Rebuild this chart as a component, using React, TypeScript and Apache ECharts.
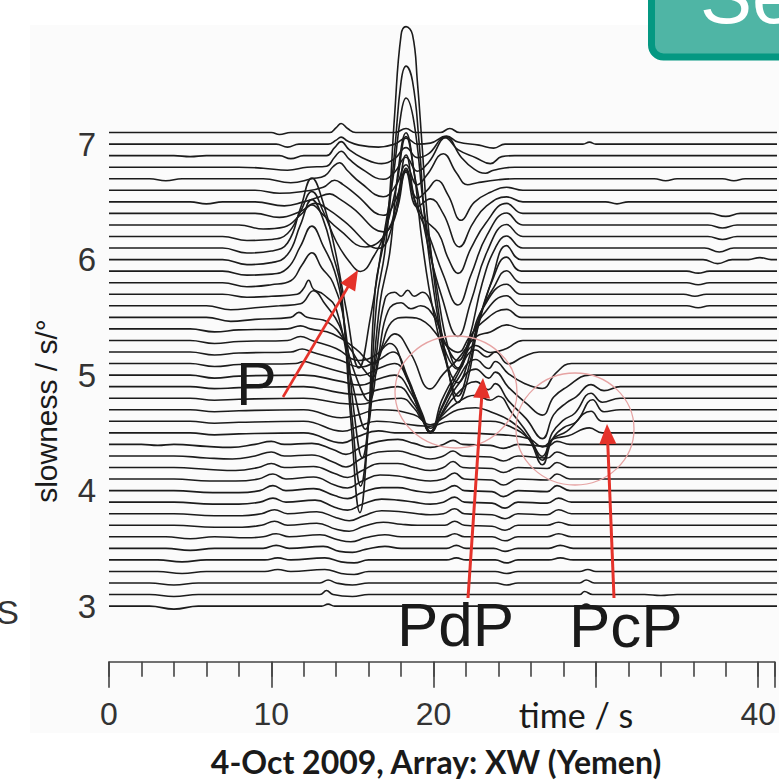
import React, { useEffect, useRef } from "react";
import * as echarts from "echarts";

// slowness of each beam trace (s/°), top to bottom
const SLOWNESS: number[] = [
  7.1, 7.0, 6.9, 6.8, 6.7, 6.6, 6.5, 6.4, 6.3, 6.2, 6.1, 6.0, 5.9, 5.8, 5.7, 5.6, 5.5, 5.4, 5.3, 5.2, 5.1,
  5.0, 4.9, 4.8, 4.7, 4.6, 4.5, 4.4, 4.3, 4.2, 4.1, 4.0, 3.9, 3.8, 3.7, 3.6, 3.5, 3.4, 3.3, 3.2, 3.1, 3.0,
];

// wiggle of each trace: [time s, amplitude] (amplitude in plot px)
const w7_1 = [[10.0,0],[10.5,-2],[11.2,0],[13.6,0],[14.0,5],[14.3,9],[14.7,4],[15.2,0],[17.6,0],[18.3,4],[18.9,0],[20.4,0],[21.0,4],[21.6,0]];
const w7_0 = [[10.3,0],[11.0,-3],[11.7,0],[13.5,0],[14.0,4],[14.3,7],[14.7,3],[15.4,-1],[16.6,-3],[17.6,0],[18.3,6],[19.0,0],[19.8,1],[20.8,8],[21.5,2],[22.8,-1],[23.7,-4],[24.4,0],[29.2,0],[29.6,2],[30.0,0]];
const w6_9 = [[4,0],[5,-1],[6,0],[10.5,0],[11.2,-3],[12.0,0],[13.4,0],[13.9,8],[14.3,14],[14.8,6],[15.6,-2],[16.8,-8],[17.6,-3],[18.3,8],[19.0,-2],[19.7,2],[20.7,18],[21.5,6],[22.6,-2],[23.5,-8],[24.2,-1],[25.0,0]];
const w6_8 = [[8.0,0],[9.5,-1],[11.0,-3],[12.2,0],[13.4,1],[13.9,10],[14.3,16],[14.8,8],[15.6,-2],[16.9,-12],[17.6,-5],[18.3,10],[19.0,-4],[19.7,5],[20.8,30],[21.7,10],[22.5,-2],[23.2,-6],[23.7,-3],[25.0,0]];
const w6_7 = [[2.5,0],[3.5,-2],[4.5,0],[9.5,0],[11.2,-4],[12.5,0],[13.3,3],[13.8,12],[14.2,16],[14.7,8],[15.5,-4],[16.9,-18],[17.7,-6],[18.3,14],[19.0,-6],[19.6,4],[20.6,25],[21.4,6],[22.1,-6],[22.7,-4],[24.0,-1],[25.0,0],[33.6,0],[34.3,-2],[35.0,0],[37.8,0],[38.5,-2],[39.2,0]];
const w6_6 = [[9.0,0],[10.5,-3],[12.0,-1],[13.2,3],[13.9,10],[14.4,6],[15.2,-4],[16.9,-25],[17.7,-8],[18.3,20],[19.0,-8],[19.6,0],[20.2,10],[20.9,-5],[21.7,-30],[22.5,-12],[23.5,-2],[24.5,3],[25.5,0]];
const w6_5 = [[5,0],[6,-2],[7,0],[9.0,0],[10.8,-4],[12.0,0],[12.8,4],[13.6,8],[14.2,3],[15.0,-6],[16.9,-30],[17.7,-10],[18.3,30],[19.0,-5],[19.8,3],[20.6,-12],[21.6,-45],[22.4,-22],[23.2,-5],[24.5,5],[25.5,0],[30.6,0],[31.3,-2],[32.0,0]];
const w6_4 = [[9.0,0],[10.5,-4],[11.8,2],[12.7,10],[13.5,4],[14.5,-8],[16.6,-35],[17.6,-5],[17.9,20],[18.3,45],[18.8,15],[19.4,-5],[20.3,-20],[20.9,-45],[21.5,-60],[22.3,-35],[23.2,-10],[24.5,10],[25.5,0],[37.0,0],[38.0,-3],[38.9,0]];
const w6_3 = [[8.0,0],[9.5,-4],[10.8,-2],[11.8,10],[12.5,20],[13.2,10],[14.2,-5],[15.8,-22],[17.0,-10],[17.7,20],[18.3,70],[18.9,20],[19.7,-10],[20.6,-50],[21.5,-80],[22.3,-50],[23.3,-10],[24.5,12],[25.5,0],[36.9,0],[37.8,-3],[38.7,0]];
const w6_2 = [[7.0,0],[8.5,-4],[10.0,-3],[11.0,3],[11.8,25],[12.5,45],[13.2,25],[14.0,-5],[14.8,-25],[15.5,-35],[16.3,-20],[17.0,5],[17.7,50],[18.3,100],[18.9,55],[19.6,-5],[20.5,-60],[21.5,-100],[22.3,-65],[23.3,-15],[24.5,12],[25.5,0],[36.9,0],[37.8,-3],[38.7,0]];
const w6_1 = [[7.0,0],[8.5,-5],[10.0,-3],[11.0,5],[11.8,40],[12.5,70],[13.2,45],[13.9,0],[14.6,-60],[15.4,-120],[16.1,-70],[16.8,0],[17.5,70],[18.0,135],[18.3,150],[18.8,125],[19.4,40],[20.2,-40],[20.9,-100],[21.5,-120],[22.2,-90],[23.0,-35],[23.8,0],[24.5,12],[25.5,0],[36.7,0],[37.6,-4],[38.5,0]];
const w6_0 = [[7.0,0],[8.5,-5],[10.0,-3],[11.0,5],[11.8,35],[12.5,60],[13.2,40],[13.8,5],[14.3,-30],[14.9,-160],[15.46,-253],[15.96,-170],[16.4,-30],[16.9,15],[17.2,45],[17.6,145],[18.0,225],[18.3,233],[18.7,225],[19.0,178],[19.3,112],[19.6,45],[20.2,-40],[20.9,-110],[21.5,-143],[22.1,-120],[22.7,-70],[23.6,-20],[24.5,14],[25.4,0],[36.6,0],[37.5,-4],[38.4,0],[39.4,0],[40.1,2],[40.8,0]];
const w5_9 = [[7.0,0],[8.5,-4],[10.0,-3],[11.0,3],[11.8,25],[12.5,45],[13.2,25],[13.9,0],[14.4,-40],[15.0,-150],[15.5,-215],[16.0,-150],[16.5,-30],[17.0,20],[17.6,120],[18.0,190],[18.3,205],[18.7,190],[19.1,130],[19.5,45],[20.2,-40],[20.9,-100],[21.5,-125],[22.1,-100],[22.8,-50],[23.6,-10],[24.5,14],[25.4,0],[35.6,0],[36.3,-2],[37.0,0]];
const w5_8 = [[7.0,0],[8.5,-4],[10.0,-2],[11.2,2],[11.9,18],[12.5,30],[13.1,15],[13.8,0],[14.5,-40],[15.1,-130],[15.6,-175],[16.1,-120],[16.7,-20],[17.3,30],[17.8,110],[18.3,150],[18.8,110],[19.3,40],[20.0,-30],[20.9,-85],[21.5,-100],[22.1,-80],[22.9,-30],[23.7,-5],[24.5,12],[25.4,0],[35.6,0],[36.3,-2],[37.0,0]];
const w5_7 = [[7.0,0],[8.5,-3],[10.0,-2],[11.6,0],[12.0,6],[12.3,14],[12.6,5],[13.2,0],[14.0,-15],[15.0,-90],[15.8,-135],[16.4,-70],[17.0,-5],[17.6,2],[18.0,-2],[18.4,4],[18.8,-2],[19.3,2],[20.0,-15],[20.8,-60],[21.5,-75],[22.2,-50],[23.0,-15],[24.5,10],[25.4,0],[35.4,0],[36.1,-2],[36.8,0]];
const w5_6 = [[6.0,0],[7.5,-4],[9.0,-2],[10.5,0],[11.8,2],[12.6,15],[13.3,2],[14.2,-20],[15.2,-70],[16.0,-95],[16.6,-50],[17.2,-5],[18.0,3],[18.6,-3],[19.2,0],[20.0,-10],[20.8,-40],[21.5,-55],[22.2,-35],[23.0,-10],[24.5,10],[25.4,0],[35.6,0],[36.3,-2],[37.0,0]];
const w5_5 = [[6.0,0],[7.5,-4],[9.0,-2],[11.2,0],[11.7,5],[12.2,0],[13.5,-5],[14.8,-30],[15.6,-50],[16.2,-60],[16.8,-30],[17.4,-5],[18.3,0],[19.5,-5],[20.6,-25],[21.5,-35],[22.2,-20],[23.0,-5],[24.5,8],[25.4,0]];
const w5_4 = [[5.0,0],[6.5,-3],[8.0,-1],[11.0,0],[11.8,3],[12.4,0],[13.8,-5],[15.2,-20],[16.3,-35],[17.0,-15],[17.6,-5],[18.6,-25],[19.8,-60],[20.6,-45],[21.5,-30],[22.6,-8],[23.5,-3],[24.5,4],[25.5,0]];
const w5_3 = [[5.0,0],[6.5,-3],[8.0,-1],[11.0,0],[11.8,4],[12.5,0],[14.0,-8],[15.4,-20],[16.4,-15],[17.3,-3],[18.3,-35],[19.1,-70],[19.8,-92],[20.5,-60],[21.5,-30],[22.6,-5],[23.5,-12],[24.5,-8],[25.5,0]];
const w5_2 = [[5.0,0],[6.5,-3],[8.0,-1],[11.2,0],[11.9,3],[12.5,0],[14.2,-8],[15.5,-15],[16.6,-8],[17.5,0],[18.4,-25],[19.2,-60],[19.8,-80],[20.5,-55],[21.4,-25],[22.6,2],[23.3,-5],[23.8,0],[24.6,-12],[25.5,-5],[26.5,0]];
const w5_1 = [[5.0,0],[6.5,-3],[8.0,-1],[11.5,0],[12.0,2],[12.5,0],[14.2,-8],[15.5,-12],[16.6,-5],[17.6,0],[18.5,-20],[19.3,-50],[19.8,-68],[20.5,-45],[21.4,-18],[22.6,4],[23.4,-5],[23.8,2],[24.6,-10],[25.6,-20],[26.7,-25],[27.5,-10],[28.5,0]];
const w5_0 = [[5.0,0],[6.5,-3],[8.0,-1],[12.0,0],[14.2,-6],[15.5,-10],[16.6,-4],[17.6,0],[18.6,-18],[19.3,-42],[19.8,-58],[20.5,-38],[21.4,-12],[22.6,6],[23.4,-3],[23.8,3],[24.6,-12],[25.7,-28],[26.7,-40],[27.4,-22],[28.2,-12],[29.6,0],[30.5,0]];
const w4_9 = [[5.0,0],[6.5,-2],[8.0,-1],[12.0,0],[14.2,-6],[15.5,-8],[16.6,-3],[17.8,0],[18.7,-15],[19.3,-32],[19.8,-45],[20.5,-28],[21.4,-8],[22.6,5],[23.4,-3],[23.8,3],[24.6,-14],[25.7,-32],[26.7,-52],[27.4,-28],[28.2,-16],[28.8,-10],[29.7,2],[30.5,-4],[31.5,0]];
const w4_8 = [[5.0,0],[6.5,-2],[8.0,-1],[12.0,0],[14.2,-5],[15.5,-6],[16.6,-2],[18.0,0],[18.8,-10],[19.3,-22],[19.8,-30],[20.5,-18],[21.4,-5],[22.6,3],[23.5,-2],[24.0,2],[24.8,-14],[25.9,-38],[26.7,-62],[27.3,-35],[28.0,-22],[28.7,-15],[29.7,5],[30.4,-4],[31.5,0]];
const w4_7 = [[5.0,0],[6.5,-2],[8.0,-1],[12.0,0],[14.3,-8],[15.4,-5],[16.5,0],[18.8,-5],[19.8,-15],[20.6,-8],[21.5,0],[22.6,2],[23.5,-2],[24.8,-12],[25.9,-30],[26.7,-55],[27.3,-30],[28.0,-18],[28.8,-12],[29.8,10],[30.5,-2],[31.5,0]];
const w4_6 = [[5.0,0],[6.5,-2],[8.0,-1],[12.0,0],[14.4,-10],[15.4,-5],[16.5,0],[19.8,-5],[21.0,0],[23.5,0],[24.8,-6],[25.9,-18],[26.7,-35],[27.3,-18],[28.2,-10],[29.7,10],[30.4,0]];
const w4_5 = [[5.0,0],[6.5,-2],[8.0,-1],[12.0,0],[14.4,-10],[15.3,-4],[16.6,2],[17.6,0],[21.0,0],[24.3,-2],[25.9,-6],[26.7,-14],[27.4,-6],[28.3,-3],[29.6,5],[30.4,0]];
const w4_4 = [[2.0,0],[3.0,-1],[4.0,0],[6.0,-2],[7.5,-3],[9.0,0],[10.0,3],[10.8,0],[12.5,1],[13.8,-5],[14.6,-10],[15.5,-3],[16.6,3],[17.8,5],[18.8,1],[19.8,-3],[20.6,0],[21.2,4],[21.8,0],[23.5,-1],[24.3,-4],[25.2,0],[27.0,-2],[27.6,3],[28.4,0]];
const w4_3 = [[4.0,0],[6.0,-2],[7.6,-3],[9.0,0],[10.0,4],[10.8,0],[12.5,1],[13.8,-6],[14.6,-11],[15.5,-3],[16.6,4],[17.8,5],[18.8,1],[19.8,-3],[20.6,0],[21.2,5],[21.8,0],[23.5,-1],[24.3,-5],[25.2,0],[27.0,-2],[27.6,4],[28.4,0]];
const w4_2 = [[4.0,0],[6.2,-2],[7.8,-3],[9.2,0],[10.0,4],[10.8,0],[12.6,1],[13.9,-6],[14.7,-10],[15.6,-3],[16.7,4],[17.8,4],[18.8,0],[19.8,-3],[20.6,0],[21.2,6],[21.8,0],[23.6,-1],[24.3,-5],[25.2,0],[27.0,-1],[27.6,5],[28.4,0]];
const w4_1 = [[4.0,0],[6.2,-2],[7.8,-2],[9.2,0],[10.1,5],[10.9,0],[12.6,2],[13.9,-6],[14.7,-9],[15.6,-2],[16.7,4],[17.8,3],[18.8,0],[19.8,-2],[20.6,0],[21.3,6],[21.9,0],[23.6,-1],[24.3,-6],[25.2,0],[27.0,-1],[27.6,5],[28.4,0]];
const w4_0 = [[4.0,0],[6.4,-2],[8.0,-2],[9.3,0],[10.1,5],[10.9,0],[12.6,2],[13.9,-5],[14.7,-8],[15.6,-2],[16.8,3],[17.8,3],[18.8,0],[19.8,-2],[20.6,0],[21.3,5],[21.9,0],[23.6,-1],[24.3,-6],[25.2,0],[27.0,-1],[27.6,5],[28.4,0]];
const w3_9 = [[4.0,0],[6.4,-2],[8.0,-2],[9.3,0],[10.1,4],[10.9,0],[12.7,2],[13.9,-5],[14.7,-8],[15.6,-2],[16.8,3],[17.8,2],[18.8,0],[19.8,-2],[20.6,0],[21.3,5],[21.9,0],[23.6,-1],[24.4,-6],[25.2,0],[27.0,-1],[27.7,4],[28.5,0]];
const w3_8 = [[4.0,0],[6.5,-2],[8.2,-2],[9.4,0],[10.2,4],[11.0,0],[12.8,2],[14.0,-4],[14.8,-7],[15.7,-2],[16.8,3],[18.0,2],[19.0,0],[19.8,-1],[20.6,0],[21.3,5],[21.9,0],[23.6,-1],[24.4,-5],[25.2,0],[27.0,-1],[27.7,4],[28.5,0]];
const w3_7 = [[4.0,0],[6.5,-2],[8.2,-2],[9.4,0],[10.2,4],[11.0,0],[12.8,2],[14.0,-4],[14.8,-6],[15.7,-1],[16.9,3],[18.0,1],[19.0,0],[20.7,0],[21.3,4],[21.9,0],[23.6,-1],[24.4,-5],[25.2,0],[27.0,0],[27.7,3],[28.5,0]];
const w3_6 = [[3.5,0],[5.0,-2],[6.5,0],[8.5,-1],[9.5,0],[10.3,3],[11.1,0],[13.0,2],[14.1,-3],[14.9,-5],[15.8,-1],[17.0,2],[18.0,0],[20.7,0],[21.3,3],[21.9,0],[23.6,0],[24.4,-4],[25.2,0],[27.0,0],[27.7,3],[28.5,0]];
const w3_5 = [[3.5,0],[5.0,-2],[6.5,0],[9.5,0],[10.3,3],[11.1,0],[13.2,2],[14.2,-3],[15.0,-4],[15.8,-1],[17.0,2],[18.0,0],[20.8,0],[21.4,3],[22.0,0],[23.7,0],[24.4,-3],[25.2,0],[27.1,0],[27.8,3],[28.6,0]];
const w3_4 = [[3.0,0],[4.5,-2],[6.0,0],[9.6,0],[10.4,2],[11.2,0],[13.3,2],[14.3,-2],[15.1,-3],[16.0,0],[20.8,0],[21.4,2],[22.0,0],[23.8,0],[24.5,-3],[25.2,0],[27.1,0],[27.8,2],[28.6,0]];
const w3_3 = [[3.0,0],[4.5,-2],[6.0,0],[9.6,0],[10.4,2],[11.2,0],[13.3,2],[14.3,-2],[15.1,-3],[16.0,0],[23.8,0],[24.5,-2],[25.2,0],[29.0,0],[29.5,2],[30.0,0]];
const w3_2 = [[2.5,0],[4.0,-2],[5.5,0],[13.0,0],[13.5,3],[14.0,0],[15.0,-2],[16.0,0],[23.8,0],[24.5,-2],[25.2,0],[29.0,0],[29.4,3],[29.9,0]];
const w3_1 = [[2.5,0],[4.0,-2],[5.5,0],[13.0,0],[13.4,4],[13.8,0],[15.0,-2],[16.0,0],[29.0,0],[29.3,3],[29.8,0],[33.0,0],[34.0,-1],[35.0,0]];
const w3_0 = [[2.5,0],[4.0,-3],[5.5,0],[13.1,0],[13.5,2],[13.9,0],[29.0,0],[29.4,2],[29.8,0]];

const WIGGLES: number[][][] = [
  w7_1, w7_0, w6_9, w6_8, w6_7, w6_6, w6_5, w6_4, w6_3, w6_2, w6_1, w6_0, w5_9, w5_8, w5_7, w5_6, w5_5,
  w5_4, w5_3, w5_2, w5_1, w5_0, w4_9, w4_8, w4_7, w4_6, w4_5, w4_4, w4_3, w4_2, w4_1, w4_0, w3_9, w3_8,
  w3_7, w3_6, w3_5, w3_4, w3_3, w3_2, w3_1, w3_0,
];

const X_LABELS = [0, 10, 20, 40];
const Y_LABELS = [3, 4, 5, 6, 7];

const FONT = '"Liberation Sans", Arial, Helvetica, sans-serif';
const CAL = 'Lato, "Open Sans", "Liberation Sans", sans-serif';

function arrow(x0: number, y0: number, x1: number, y1: number, w: number) {
  const dx = x1 - x0, dy = y1 - y0;
  const L = Math.hypot(dx, dy);
  const ux = dx / L, uy = dy / L;
  const head = 20, half = 8.5;
  const bx = x1 - ux * head, by = y1 - uy * head;
  const px = -uy, py = ux;
  const red = "#e5322a";
  return [
    { type: "line", z: 100, shape: { x1: x0, y1: y0, x2: bx + ux * 2, y2: by + uy * 2 }, style: { stroke: red, lineWidth: w } },
    { type: "polygon", z: 100, shape: { points: [[x1, y1], [bx + px * half, by + py * half], [bx - px * half, by - py * half]] }, style: { fill: red } },
  ];
}

function txt(x: number, y: number, text: string, font: string, fill: string, align: string, extra: any = {}) {
  return {
    type: "text", x, y, z: 110, ...extra,
    style: { text, font, fill, align, verticalAlign: "middle", textAlign: align, textVerticalAlign: "middle" },
  };
}

export default function App() {
  const ref = useRef<HTMLDivElement>(null);
  useEffect(() => {
    const el = ref.current!;
    const chart = echarts.init(el, undefined, { renderer: "svg" });
    const GAIN = 1 / 115.5;
    const YMIN = 2.5, YMAX = 8.2;
    const PX = 115.5;
    const top = 606.1 - (YMAX - 3) * PX;
    const series = WIGGLES.map((knots, i) => {
      const s = SLOWNESS[i];
      const pts = [[0, 0], ...knots, [41.6, 0]];
      return {
        type: "line",
        data: pts.map(([t, a]) => [t, s + a * GAIN]),
        smooth: 0.45,
        symbol: "none",
        showSymbol: false,
        silent: true,
        lineStyle: { color: "#1c1c1c", width: 1.6 },
        z: 3,
      };
    });
    const graphic: any[] = [
      { type: "rect", z: -5, shape: { x: 30, y: 25, width: 760, height: 708 }, style: { fill: "#fbfbfb" } },
      { type: "ellipse", z: 90, shape: { cx: 456, cy: 392, rx: 61, ry: 56 }, style: { fill: "none", stroke: "#e6a3a3", lineWidth: 1.3 } },
      { type: "ellipse", z: 90, shape: { cx: 575, cy: 429, rx: 59, ry: 56 }, style: { fill: "none", stroke: "#e6a3a3", lineWidth: 1.3 } },
      ...arrow(283, 397, 358, 270, 2.6),
      ...arrow(468, 598, 483, 378, 3),
      ...arrow(614, 598, 607, 424, 3),
      txt(236, 384, "P", `61px ${FONT}`, "#1a1a1a", "left"),
      txt(397, 624, "PdP", `62px ${FONT}`, "#1a1a1a", "left"),
      txt(569, 625, "PcP", `62px ${FONT}`, "#1a1a1a", "left"),
      txt(46, 411, "slowness / s/°", `30px ${FONT}`, "#1a1a1a", "center", { rotation: Math.PI / 2 }),
      txt(576, 714, "time / s", `34px ${CAL}`, "#1a1a1a", "center"),
      txt(436, 761, "4-Oct 2009, Array: XW (Yemen)", `bold 32px ${CAL}`, "#1a1a1a", "center"),
      txt(19, 612, "S", `34px ${FONT}`, "#333", "right"),
      { type: "rect", z: 120, shape: { x: 651.5, y: -40, width: 200, height: 97, r: 12 }, style: { fill: "#4fb5a5", stroke: "#049882", lineWidth: 7 } },
      txt(700, -4, "See", `78px ${FONT}`, "#ffffff", "left", { z: 121 }),
    ];
    chart.setOption({
      animation: false,
      backgroundColor: "#ffffff",
      grid: { left: 109, right: 0, top, height: (YMAX - YMIN) * PX, containLabel: false },
      xAxis: [
        {
          type: "value", min: 0, max: 41, interval: 10, position: "bottom", offset: -2,
          axisLine: { show: true, lineStyle: { color: "#444", width: 1.6 } },
          axisTick: { show: true, length: 26, lineStyle: { color: "#444", width: 1.6 } },
          axisLabel: {
            fontSize: 32, color: "#333", fontFamily: FONT, margin: 36,
            formatter: (v: number) => (X_LABELS.includes(v) ? String(v) : ""),
          },
          splitLine: { show: false },
        },
        {
          type: "value", min: 0, max: 41, interval: 2, position: "bottom", offset: -2,
          axisLine: { show: false },
          axisTick: { show: true, length: 15, lineStyle: { color: "#444", width: 1.6 } },
          axisLabel: { show: false },
          splitLine: { show: false },
        },
      ],
      yAxis: {
        type: "value", min: YMIN, max: YMAX, interval: 0.5,
        axisLine: { show: false }, axisTick: { show: false }, splitLine: { show: false },
        axisLabel: {
          fontSize: 33, color: "#333", fontFamily: FONT, margin: 13,
          formatter: (v: number) => (Y_LABELS.includes(v) ? String(v) : ""),
        },
      },
      series,
      graphic: { elements: graphic },
    });
    return () => chart.dispose();
  }, []);
  return <div ref={ref} style={{ position: "fixed", left: 0, top: 0, width: 779, height: 783 }} />;
}
